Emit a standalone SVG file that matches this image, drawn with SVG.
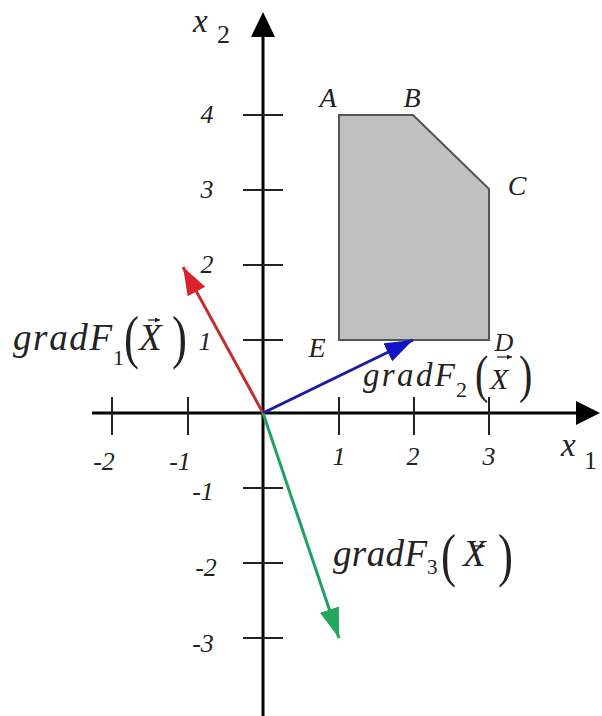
<svg xmlns="http://www.w3.org/2000/svg" width="602" height="716" viewBox="0 0 602 716">
<style>
.ax{stroke:#000;stroke-width:3;fill:none}
.tk{stroke:#222;stroke-width:2}
.lab{font-family:"Liberation Serif","Times New Roman",serif;font-style:italic;fill:#222}
.up{font-family:"Liberation Serif","Times New Roman",serif;fill:#222}
.tl{font-size:26px;text-anchor:middle}
.pt{font-size:28px;text-anchor:middle}
.g{font-size:37px}
.vec{stroke:#222;stroke-width:1.2}
</style>
<defs>
<marker id="hr" markerUnits="userSpaceOnUse" markerWidth="30" markerHeight="22" refX="28" refY="10" orient="auto"><path d="M0,0 L28,10 L0,20 z" fill="#d9222a"/></marker>
<marker id="hb" markerUnits="userSpaceOnUse" markerWidth="30" markerHeight="22" refX="28" refY="10" orient="auto"><path d="M0,0 L28,10 L0,20 z" fill="#1212c8"/></marker>
<marker id="hg" markerUnits="userSpaceOnUse" markerWidth="32" markerHeight="22" refX="30" refY="10" orient="auto"><path d="M0,0 L30,10 L0,20 z" fill="#22a85c"/></marker>
<marker id="hv" markerUnits="userSpaceOnUse" markerWidth="6" markerHeight="6" refX="5" refY="2.5" orient="auto"><path d="M0,0 L5,2.5 L0,5 z" fill="#222"/></marker>
</defs>

<g id="axes">
<line class="ax" x1="263" y1="30" x2="263" y2="716"/>
<path d="M263,12 L275,37 L251,37 z" fill="#000"/>
<line class="ax" x1="92" y1="413" x2="580" y2="413"/>
<path d="M600,413 L576,401 L576,425 z" fill="#000"/>
<g id="ticks">
<line class="tk" x1="243" y1="115" x2="283" y2="115"/>
<line class="tk" x1="243" y1="190" x2="283" y2="190"/>
<line class="tk" x1="243" y1="265" x2="283" y2="265"/>
<line class="tk" x1="243" y1="340" x2="283" y2="340"/>
<line class="tk" x1="243" y1="488" x2="283" y2="488"/>
<line class="tk" x1="243" y1="563" x2="283" y2="563"/>
<line class="tk" x1="243" y1="638" x2="283" y2="638"/>
<line class="tk" x1="112" y1="397" x2="112" y2="435"/>
<line class="tk" x1="188" y1="397" x2="188" y2="435"/>
<line class="tk" x1="339" y1="397" x2="339" y2="435"/>
<line class="tk" x1="414" y1="397" x2="414" y2="435"/>
<line class="tk" x1="489" y1="397" x2="489" y2="435"/>
</g>
<g id="tick-labels" class="lab tl">
<text x="207" y="123">4</text>
<text x="207" y="198">3</text>
<text x="207" y="273">2</text>
<text x="205" y="350">1</text>
<text x="203" y="500">-1</text>
<text x="206" y="576">-2</text>
<text x="203" y="652">-3</text>
<text x="104" y="470">-2</text>
<text x="180" y="470">-1</text>
<text x="339" y="465">1</text>
<text x="413" y="465">2</text>
<text x="489" y="465">3</text>
</g>
<g id="axis-labels">
<text class="lab" x="193" y="32" font-size="33">x</text>
<text class="up" x="217" y="43" font-size="26">2</text>
<text class="lab" x="561" y="456" font-size="33">x</text>
<text class="up" x="584" y="469" font-size="26">1</text>
</g>
</g>

<g id="region">
<polygon points="339,115 413,115 489,189 489,340 339,340" fill="#c0c0c0" stroke="#555" stroke-width="2"/>
<g class="lab pt">
<text x="328" y="107">A</text>
<text x="412" y="107">B</text>
<text x="517" y="195">C</text>
<text x="504" y="351" font-size="26">D</text>
<text x="317" y="357">E</text>
</g>
</g>

<g id="connectors">
<line x1="263" y1="413" x2="183" y2="267" stroke="#c0302f" stroke-width="3" marker-end="url(#hr)"/>
<line x1="263" y1="413" x2="413" y2="340" stroke="#1a1aa8" stroke-width="3" marker-end="url(#hb)"/>
<line x1="263" y1="413" x2="339" y2="638" stroke="#23a060" stroke-width="3" marker-end="url(#hg)"/>
</g>

<g id="label-gradF1">
<text class="lab g" x="13" y="350" textLength="99" lengthAdjust="spacing">gradF</text>
<text class="up" x="113" y="365" font-size="22">1</text>
<text class="up" font-size="45" transform="translate(124,357) scale(1,1.3)">(</text>
<text class="lab g" x="139" y="350">X</text>
<line class="vec" x1="148" y1="320" x2="160" y2="320" marker-end="url(#hv)"/>
<text class="up" font-size="45" transform="translate(172,357) scale(1,1.3)">)</text>
</g>

<g id="label-gradF2">
<text class="lab" x="363" y="386" font-size="33" textLength="92" lengthAdjust="spacing">gradF</text>
<text class="up" x="456" y="397" font-size="22">2</text>
<text class="up" font-size="40" transform="translate(475,392) scale(1,1.3)">(</text>
<text class="lab" x="490" y="389" font-size="30">X</text>
<line class="vec" x1="497" y1="357" x2="512" y2="357" marker-end="url(#hv)"/>
<text class="up" font-size="40" transform="translate(519,392) scale(1,1.3)">)</text>
</g>

<g id="label-gradF3">
<text class="lab g" x="333" y="566" textLength="94" lengthAdjust="spacing">gradF</text>
<text class="up" x="427" y="574" font-size="21">3</text>
<text class="up" font-size="45" transform="translate(441,575) scale(1,1.3)">(</text>
<text class="lab g" x="463" y="566">X</text>
<line class="vec" x1="471" y1="546" x2="485" y2="546" marker-end="url(#hv)"/>
<text class="up" font-size="45" transform="translate(498,575) scale(1,1.3)">)</text>
</g>
</svg>
